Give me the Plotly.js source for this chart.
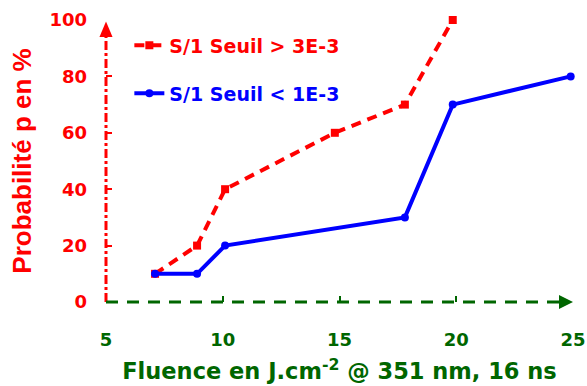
<!DOCTYPE html>
<html><head><meta charset="utf-8">
<script src="https://cdn.plot.ly/plotly-3.0.1.min.js"></script>
<style>body{margin:0;background:#fff}#c{width:587px;height:386px}</style>
</head><body><div id="c"></div>
<script>
const redX = [7.1, 8.9, 10.1, 14.8, 17.8, 19.85];
const redY = [10, 20, 40, 60, 70, 100];
const blueX = [7.1, 8.9, 10.1, 17.8, 19.85, 24.9];
const blueY = [10, 10, 20, 30, 70, 80];
const redName = 'S/1 Seuil > 3E-3';
const blueName = 'S/1 Seuil < 1E-3';
const xTicks = [5, 10, 15, 20, 25];
const yTicks = [0, 20, 40, 60, 80, 100];

const RED = '#ff0000', BLUE = '#0000ff', GREEN = '#006600';
const FD = 'DejaVu Sans, sans-serif';
const FA = 'Liberation Sans, Arial, sans-serif';

const traces = [
  {x: redX, y: redY, name: redName, type: 'scatter', mode: 'lines+markers', cliponaxis: false,
   line: {color: RED, width: 4, dash: '10px,7px'}, marker: {symbol: 'square', size: 8, color: RED},
   legend: 'legend'},
  {x: blueX, y: blueY, name: blueName, type: 'scatter', mode: 'lines+markers', cliponaxis: false,
   line: {color: BLUE, width: 4}, marker: {symbol: 'circle', size: 8, color: BLUE},
   legend: 'legend2'}
];

const layout = {
  width: 587, height: 386,
  margin: {l: 106, r: 14, t: 20, b: 84},
  paper_bgcolor: '#fff', plot_bgcolor: '#fff',
  showlegend: true,
  legend: {x: 0.05, y: 0.91, xanchor: 'left', yanchor: 'middle', bgcolor: 'rgba(0,0,0,0)',
           font: {family: FD, size: 19, color: RED, weight: 'bold'}, itemwidth: 30},
  legend2: {x: 0.05, y: 0.74, xanchor: 'left', yanchor: 'middle', bgcolor: 'rgba(0,0,0,0)',
           font: {family: FD, size: 19, color: BLUE, weight: 'bold'}, itemwidth: 30},
  xaxis: {range: [5, 25], tickvals: xTicks, showgrid: false, zeroline: false, showline: false,
          ticks: 'inside', ticklen: 6, tickwidth: 2, tickcolor: GREEN, ticklabelstandoff: 25,
          ticklabeloverflow: 'allow',
          tickfont: {family: FD, size: 18, color: GREEN, weight: 'bold'},
          title: {text: 'Fluence en J.cm<sup>-2</sup> @ 351 nm, 16 ns', standoff: 14,
                  font: {family: FD, size: 22.5, color: GREEN, weight: 'bold'}}},
  yaxis: {range: [0, 100], tickvals: yTicks, showgrid: false, zeroline: false, showline: false,
          ticks: 'inside', ticklen: 6, tickwidth: 2, tickcolor: RED, ticklabelstandoff: 18,
          ticklabeloverflow: 'allow',
          tickfont: {family: FD, size: 18, color: RED, weight: 'bold'},
          title: {text: 'Probabilité p en %', standoff: 10,
                  font: {family: FA, size: 26, color: RED, weight: 'bold'}}},
  shapes: [
    {type: 'line', xref: 'paper', yref: 'paper', x0: 0, x1: 0, y0: 0, y1: 0.97,
     line: {color: RED, width: 3, dash: 'dashdot'}},
    {type: 'path', xref: 'paper', yref: 'paper', path: 'M -0.014 0.94 L 0.014 0.94 L 0 0.995 Z',
     fillcolor: RED, line: {width: 0}},
    {type: 'line', xref: 'paper', yref: 'paper', x0: 0, x1: 0.99, y0: 0, y1: 0,
     line: {color: GREEN, width: 3, dash: '12px,9px'}},
    {type: 'path', xref: 'paper', yref: 'paper', path: 'M 0.97 0.025 L 0.97 -0.025 L 1.0 0 Z',
     fillcolor: GREEN, line: {width: 0}}
  ]
};
Plotly.newPlot('c', traces, layout, {displayModeBar: false, staticPlot: true});
</script></body></html>
